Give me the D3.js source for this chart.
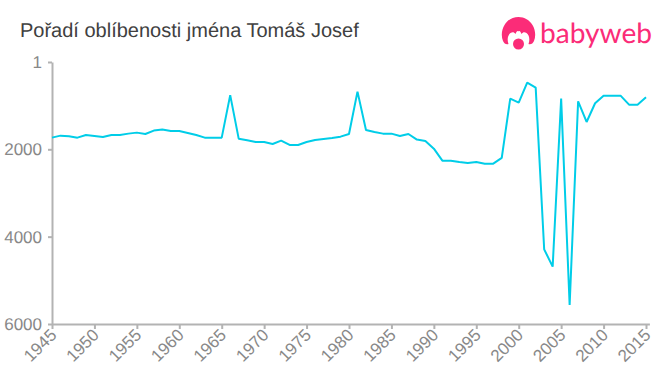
<!DOCTYPE html>
<html>
<head>
<meta charset="utf-8">
<script src="https://cdn.jsdelivr.net/npm/d3@7"></script>
<style>
  html, body { margin: 0; padding: 0; background: #fff; }
  svg { display: block; }
  text { font-family: "Liberation Sans", Arial, sans-serif; text-rendering: geometricPrecision; }
  .axis path, .axis line { stroke: #b3b3b3; stroke-width: 2; }
  .axis text { fill: #888; font-size: 17px; }
  .title { fill: #404040; font-size: 20px; }
  .logo-text { fill: #fb2c78; font-family: "Lato", sans-serif; font-size: 28px; font-weight: 400; }
</style>
</head>
<body>
<div id="chart"></div>
<script>
var years = d3.range(1945, 2016);
var ranks = [
  1733, 1687, 1702, 1733, 1672, 1694, 1717, 1672, 1672, 1641,
  1618, 1649, 1572, 1549, 1580, 1580, 1626, 1672, 1733, 1733,
  1733, 760, 1756, 1794, 1832, 1832, 1878, 1801, 1900, 1900,
  1832, 1786, 1763, 1740, 1710, 1649, 680, 1557, 1603, 1641,
  1641, 1694, 1649, 1778, 1809, 1985, 2260, 2260, 2290, 2313,
  2290, 2329, 2329, 2198, 840, 932, 474, 588, 4290, 4687,
  840, 5565, 900, 1374, 946, 772, 772, 772, 978, 978,
  808
];
var yTicks = [1, 2000, 4000, 6000];
var xTicks = d3.range(1945, 2016, 5);
var titleText = 'Pořadí oblíbenosti jména Tomáš Josef';

var width = 660, height = 375;

var svg = d3.select('#chart').append('svg')
    .attr('width', width)
    .attr('height', height);

// domain runs slightly past 2015, the axis line overshoots the last tick
var x = d3.scaleLinear().domain([1945, 2015.4]).range([52, 649.4]);
var y = d3.scaleLinear().domain([1, 6000]).range([62, 324]);

svg.append('text')
    .attr('class', 'title')
    .attr('x', 20)
    .attr('y', 37)
    .text(titleText);

var gY = svg.append('g')
    .attr('class', 'axis')
    .attr('transform', 'translate(52,0)')
    .call(d3.axisLeft(y).tickValues(yTicks).tickFormat(d3.format('d')).tickSize(4).tickSizeOuter(0));
gY.selectAll('text').attr('x', -10).attr('dy', '0.32em');

var gX = svg.append('g')
    .attr('class', 'axis')
    .attr('transform', 'translate(0,324)')
    .call(d3.axisBottom(x).tickValues(xTicks).tickFormat(d3.format('d')).tickSize(5).tickSizeOuter(0));
gX.selectAll('text')
    .attr('text-anchor', 'end')
    .attr('dy', 0)
    .attr('transform', 'translate(-2,5) rotate(-45)')
    .attr('x', 0)
    .attr('y', 10);

var line = d3.line()
    .x(function(d, i) { return x(years[i]); })
    .y(function(d) { return y(d); });

svg.append('path')
    .datum(ranks)
    .attr('fill', 'none')
    .attr('stroke', '#00cde8')
    .attr('stroke-width', 2)
    .attr('stroke-linejoin', 'bevel')
    .attr('d', line);

// Logo
var logo = svg.append('g').attr('transform', 'translate(518.5,33)');
logo.append('path')
    .attr('fill', '#fb2c78')
    .attr('d', 'M-10,11 C-12,12 -14.5,10.5 -15.5,8 C-17.5,3 -17,-3 -14,-8 C-11,-13 -6,-16 0,-16 C6,-16 11,-13 14,-8 C17,-3 17.5,3 15.5,8 C14.5,10.5 12,12 10,11 C11.5,7 11,2 8,0 C6,-1 4.5,-1 3,1 C2,-1.5 1,-2.5 0,-1.5 C-1,-2.5 -2,-1.5 -3,1 C-4.5,-1 -6,-1 -8,0 C-11,2 -11.5,7 -10,11 Z');
logo.append('circle')
    .attr('fill', '#fb2c78')
    .attr('cx', 0)
    .attr('cy', 11)
    .attr('r', 5.5);
svg.append('text')
    .attr('class', 'logo-text')
    .attr('x', 540)
    .attr('y', 43)
    .attr('textLength', 112)
    .attr('lengthAdjust', 'spacingAndGlyphs')
    .text('babyweb');
</script>
</body>
</html>
